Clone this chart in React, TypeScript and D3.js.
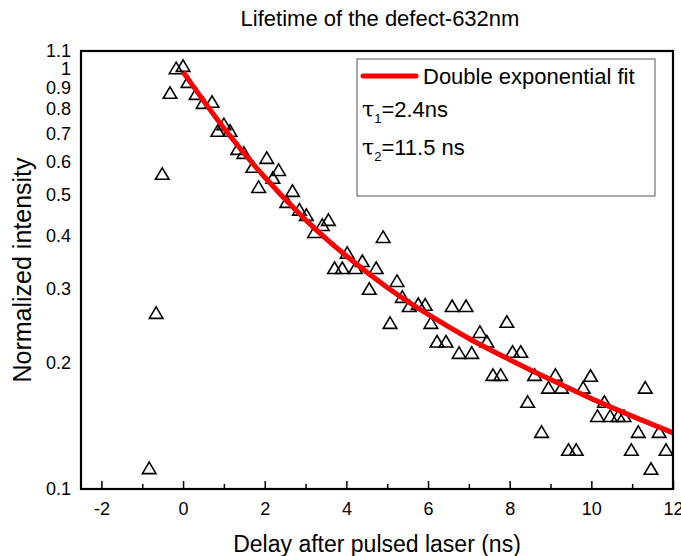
import { useEffect, useRef } from 'react'
import * as d3 from 'd3'

// measured triangles (delay in ns, normalized intensity)
const delays = [-0.83, -0.66, -0.51, -0.32, -0.17, 0, 0.12, 0.32, 0.49, 0.71, 0.85, 1.0, 1.15, 1.34, 1.49, 1.71, 1.85, 2.05, 2.2, 2.34, 2.54, 2.68, 2.85, 3.02, 3.22, 3.41, 3.56, 3.71, 3.9, 4.02, 4.22, 4.39, 4.56, 4.73, 4.9, 5.07, 5.24, 5.37, 5.54, 5.76, 5.93, 6.07, 6.22, 6.44, 6.59, 6.76, 6.93, 7.07, 7.27, 7.44, 7.59, 7.78, 7.93, 8.07, 8.27, 8.44, 8.61, 8.78, 8.95, 9.12, 9.27, 9.44, 9.63, 9.8, 9.98, 10.15, 10.32, 10.46, 10.66, 10.8, 10.98, 11.15, 11.32, 11.46, 11.66, 11.83]
const intensities = [0.112, 0.262, 0.561, 0.874, 1.0, 1.013, 0.928, 0.869, 0.827, 0.832, 0.71, 0.736, 0.71, 0.643, 0.629, 0.583, 0.522, 0.612, 0.549, 0.573, 0.481, 0.511, 0.461, 0.448, 0.408, 0.424, 0.436, 0.335, 0.335, 0.364, 0.335, 0.348, 0.299, 0.335, 0.397, 0.248, 0.312, 0.286, 0.272, 0.275, 0.274, 0.248, 0.224, 0.224, 0.272, 0.2105, 0.272, 0.2105, 0.236, 0.224, 0.1866, 0.1866, 0.2495, 0.2118, 0.2118, 0.161, 0.1866, 0.1366, 0.174, 0.1866, 0.174, 0.1238, 0.1238, 0.174, 0.1857, 0.149, 0.161, 0.149, 0.149, 0.149, 0.1238, 0.1366, 0.174, 0.1116, 0.1366, 0.1238]

// fit curve
const fitDelays = [0, 1, 2, 3, 4, 5, 6, 7, 8, 9, 10, 11, 12]
const fitValues = [0.98, 0.721, 0.551, 0.4365, 0.358, 0.3015, 0.26, 0.228, 0.203, 0.182, 0.164, 0.149, 0.136]

const xTicks = [-2, -1, 0, 1, 2, 3, 4, 5, 6, 7, 8, 9, 10, 11, 12]
const yTicks = [0.1, 0.2, 0.3, 0.4, 0.5, 0.6, 0.7, 0.8, 0.9, 1, 1.1]

const W = 681
const H = 556
const left = 81, right = 673, top = 51, bottom = 489
const font = '"Liberation Sans", Arial, sans-serif'

const App = () => {
  const axisRef = useRef<SVGGElement>(null)

  const x = d3.scaleLinear().domain([-2.5, 12]).range([left, right])
  const y = d3.scaleLog().domain([0.1, 1.1]).range([bottom, top])

  useEffect(() => {
    const g = d3.select(axisRef.current)
    g.selectAll('*').remove()
    const xAxis = d3.axisTop(x).tickValues(xTicks).tickSize(0).tickFormat(() => '')
    const gx = g.append('g').attr('transform', `translate(0,${bottom})`).call(xAxis)
    gx.select('.domain').remove()
    gx.selectAll('.tick').append('line')
      .attr('y1', 0).attr('y2', (d: any) => (d % 2 === 0 ? -8 : -5))
      .attr('stroke', '#000').attr('stroke-width', 1.5)
    gx.selectAll('.tick').append('text')
      .attr('y', 26).attr('text-anchor', 'middle')
      .attr('font-size', 18).attr('font-family', font).attr('fill', '#000')
      .text((d: any) => (d % 2 === 0 ? String(d) : ''))

    const gy = g.append('g').attr('transform', `translate(${left},0)`)
      .call(d3.axisLeft(y).tickValues(yTicks).tickSize(0).tickPadding(10).tickFormat(d3.format('~g')))
    gy.select('.domain').remove()
    gy.selectAll('text').attr('font-size', 18).attr('font-family', font).attr('fill', '#000')
  }, [])

  const tri = 'M0,-6.2L6.8,5.3L-6.8,5.3Z'
  const fitLine = d3.line<number>()
    .x((_, i) => x(fitDelays[i]))
    .y(d => y(d))
    .curve(d3.curveMonotoneX)

  return (
    <svg width={W} height={H} style={{ position: 'absolute', left: 0, top: 0 }} fontFamily={font}>
      <rect width={W} height={H} fill="#fff" />
      <text x={380} y={26} textAnchor="middle" fontSize={22}>Lifetime of the defect-632nm</text>
      <g ref={axisRef} />
      {delays.map((d, i) => (
        <path key={i} d={tri} transform={`translate(${x(d)},${y(intensities[i])})`}
          fill="none" stroke="#000" strokeWidth={1.6} />
      ))}
      <path d={fitLine(fitValues) ?? ''} fill="none" stroke="#f00" strokeWidth={5} />
      <rect x={left} y={top} width={right - left} height={bottom - top} fill="none" stroke="#000" strokeWidth={2.2} />
      <g>
        <rect x={357} y={59} width={298} height={137} fill="#fff" stroke="#555" strokeWidth={1} />
        <line x1={363} x2={416} y1={76} y2={76} stroke="#f00" strokeWidth={5} strokeLinecap="round" />
        <text x={423} y={84} fontSize={22}>Double exponential fit</text>
        <text x={362} y={117} fontSize={22}>
          <tspan fontFamily='"DejaVu Serif", serif'>τ</tspan>
          <tspan fontSize={13} dy={6}>1</tspan>
          <tspan dy={-6}>=2.4ns</tspan>
        </text>
        <text x={362} y={155} fontSize={22}>
          <tspan fontFamily='"DejaVu Serif", serif'>τ</tspan>
          <tspan fontSize={13} dy={6}>2</tspan>
          <tspan dy={-6}>=11.5 ns</tspan>
        </text>
      </g>
      <text x={377} y={552} textAnchor="middle" fontSize={23}>Delay after pulsed laser (ns)</text>
      <text transform="translate(31,270) rotate(-90)" textAnchor="middle" fontSize={25}>Normalized intensity</text>
    </svg>
  )
}

export default App
